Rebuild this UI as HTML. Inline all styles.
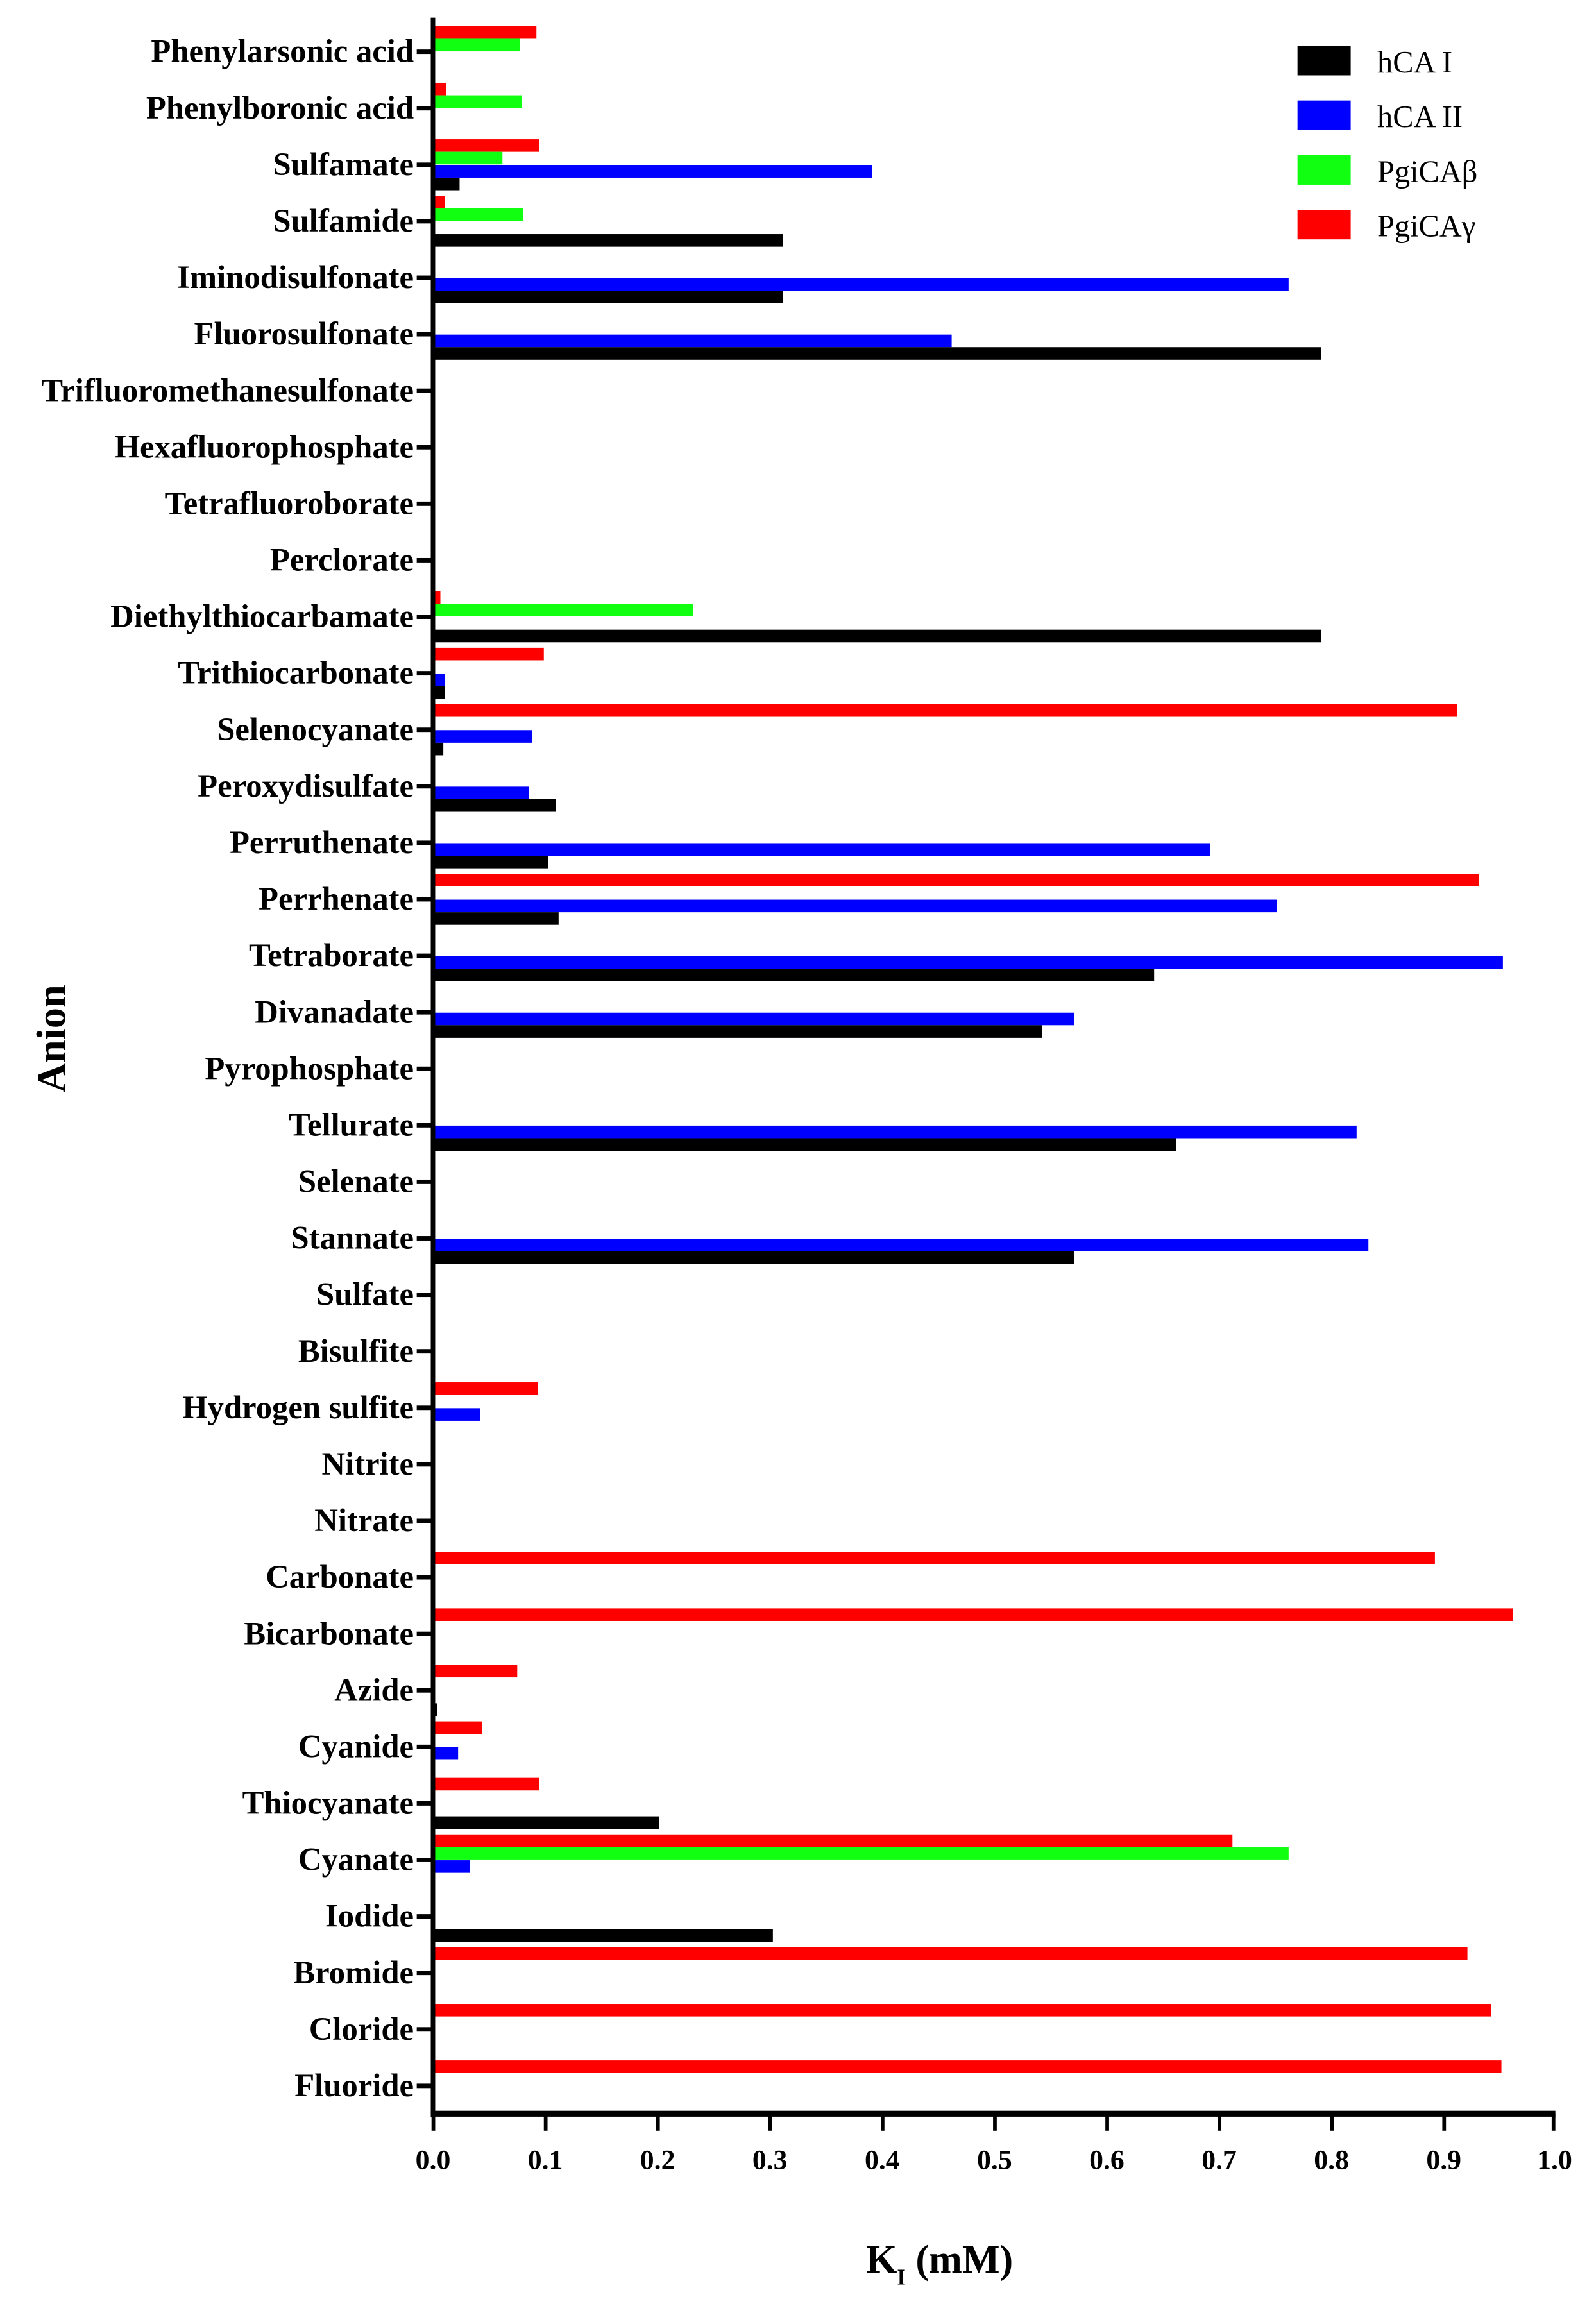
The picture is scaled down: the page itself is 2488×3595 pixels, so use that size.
<!DOCTYPE html>
<html><head><meta charset="utf-8"><style>
html,body{margin:0;padding:0;background:#fff;}
svg{display:block;}
.l{font-family:"Liberation Serif",serif;font-weight:bold;font-size:22px;text-anchor:end;}
.t{font-family:"Liberation Serif",serif;font-weight:bold;font-size:19px;text-anchor:middle;}
.g{font-family:"Liberation Serif",serif;font-size:21px;}
</style></head><body>
<svg width="2488" height="3595" viewBox="0 0 1080 1560.6" preserveAspectRatio="none" xmlns="http://www.w3.org/2000/svg">
<rect width="1080" height="1561" fill="#fff"/>
<defs>
<g id="tk"><rect x="282" y="-1.5" width="12" height="3" fill="#000"/></g>
</defs>
<g transform="translate(0,35)"><rect x="294" y="-17.25" width="69" height="8.5" fill="#f00"/><rect x="294" y="-8.75" width="58" height="8.5" fill="#1f1"/></g>
<g transform="translate(0,73.24)"><rect x="294" y="-17.25" width="8" height="8.5" fill="#f00"/><rect x="294" y="-8.75" width="59" height="8.5" fill="#1f1"/></g>
<g transform="translate(0,111.48)"><rect x="294" y="-17.25" width="71" height="8.5" fill="#f00"/><rect x="294" y="-8.75" width="46" height="8.5" fill="#1f1"/><rect x="294" y="0.25" width="296" height="8.5" fill="#00f"/><rect x="294" y="8.75" width="17" height="8.5" fill="#000"/></g>
<g transform="translate(0,149.72)"><rect x="294" y="-17.25" width="7" height="8.5" fill="#f00"/><rect x="294" y="-8.75" width="60" height="8.5" fill="#1f1"/><rect x="294" y="8.75" width="236" height="8.5" fill="#000"/></g>
<g transform="translate(0,187.96)"><rect x="294" y="0.25" width="578" height="8.5" fill="#00f"/><rect x="294" y="8.75" width="236" height="8.5" fill="#000"/></g>
<g transform="translate(0,226.2)"><rect x="294" y="0.25" width="350" height="8.5" fill="#00f"/><rect x="294" y="8.75" width="600" height="8.5" fill="#000"/></g>
<g transform="translate(0,417.4)"><rect x="294" y="-17.25" width="4" height="8.5" fill="#f00"/><rect x="294" y="-8.75" width="175" height="8.5" fill="#1f1"/><rect x="294" y="8.75" width="600" height="8.5" fill="#000"/></g>
<g transform="translate(0,455.64)"><rect x="294" y="-17.25" width="74" height="8.5" fill="#f00"/><rect x="294" y="0.25" width="7" height="8.5" fill="#00f"/><rect x="294" y="8.75" width="7" height="8.5" fill="#000"/></g>
<g transform="translate(0,493.88)"><rect x="294" y="-17.25" width="692" height="8.5" fill="#f00"/><rect x="294" y="0.25" width="66" height="8.5" fill="#00f"/><rect x="294" y="8.75" width="6" height="8.5" fill="#000"/></g>
<g transform="translate(0,532.12)"><rect x="294" y="0.25" width="64" height="8.5" fill="#00f"/><rect x="294" y="8.75" width="82" height="8.5" fill="#000"/></g>
<g transform="translate(0,570.36)"><rect x="294" y="0.25" width="525" height="8.5" fill="#00f"/><rect x="294" y="8.75" width="77" height="8.5" fill="#000"/></g>
<g transform="translate(0,608.6)"><rect x="294" y="-17.25" width="707" height="8.5" fill="#f00"/><rect x="294" y="0.25" width="570" height="8.5" fill="#00f"/><rect x="294" y="8.75" width="84" height="8.5" fill="#000"/></g>
<g transform="translate(0,646.84)"><rect x="294" y="0.25" width="723" height="8.5" fill="#00f"/><rect x="294" y="8.75" width="487" height="8.5" fill="#000"/></g>
<g transform="translate(0,685.08)"><rect x="294" y="0.25" width="433" height="8.5" fill="#00f"/><rect x="294" y="8.75" width="411" height="8.5" fill="#000"/></g>
<g transform="translate(0,761.56)"><rect x="294" y="0.25" width="624" height="8.5" fill="#00f"/><rect x="294" y="8.75" width="502" height="8.5" fill="#000"/></g>
<g transform="translate(0,838.04)"><rect x="294" y="0.25" width="632" height="8.5" fill="#00f"/><rect x="294" y="8.75" width="433" height="8.5" fill="#000"/></g>
<g transform="translate(0,952.76)"><rect x="294" y="-17.25" width="70" height="8.5" fill="#f00"/><rect x="294" y="0.25" width="31" height="8.5" fill="#00f"/></g>
<g transform="translate(0,1067.48)"><rect x="294" y="-17.25" width="677" height="8.5" fill="#f00"/></g>
<g transform="translate(0,1105.72)"><rect x="294" y="-17.25" width="730" height="8.5" fill="#f00"/></g>
<g transform="translate(0,1143.96)"><rect x="294" y="-17.25" width="56" height="8.5" fill="#f00"/><rect x="294" y="8.75" width="2" height="8.5" fill="#000"/></g>
<g transform="translate(0,1182.2)"><rect x="294" y="-17.25" width="32" height="8.5" fill="#f00"/><rect x="294" y="0.25" width="16" height="8.5" fill="#00f"/></g>
<g transform="translate(0,1220.44)"><rect x="294" y="-17.25" width="71" height="8.5" fill="#f00"/><rect x="294" y="8.75" width="152" height="8.5" fill="#000"/></g>
<g transform="translate(0,1258.68)"><rect x="294" y="-17.25" width="540" height="8.5" fill="#f00"/><rect x="294" y="-8.75" width="578" height="8.5" fill="#1f1"/><rect x="294" y="0.25" width="24" height="8.5" fill="#00f"/></g>
<g transform="translate(0,1296.92)"><rect x="294" y="8.75" width="229" height="8.5" fill="#000"/></g>
<g transform="translate(0,1335.16)"><rect x="294" y="-17.25" width="699" height="8.5" fill="#f00"/></g>
<g transform="translate(0,1373.4)"><rect x="294" y="-17.25" width="715" height="8.5" fill="#f00"/></g>
<g transform="translate(0,1411.64)"><rect x="294" y="-17.25" width="722" height="8.5" fill="#f00"/></g>

<rect x="291.5" y="12" width="3" height="1421" fill="#000"/>
<rect x="291.5" y="1428.5" width="761" height="4" fill="#000"/>
<g fill="#000">
<rect x="292" y="1430" width="2.5" height="12"/><rect x="368" y="1430" width="2.5" height="12"/><rect x="444" y="1430" width="2.5" height="12"/><rect x="520" y="1430" width="2.5" height="12"/><rect x="596" y="1430" width="2.5" height="12"/><rect x="672" y="1430" width="2.5" height="12"/><rect x="748" y="1430" width="2.5" height="12"/><rect x="824" y="1430" width="2.5" height="12"/><rect x="900" y="1430" width="2.5" height="12"/><rect x="976" y="1430" width="2.5" height="12"/><rect x="1050" y="1430" width="2.5" height="12"/>
</g>
<g class="t">
<text x="293" y="1468">0.0</text><text x="369" y="1468">0.1</text><text x="445" y="1468">0.2</text><text x="521" y="1468">0.3</text><text x="597" y="1468">0.4</text><text x="673" y="1468">0.5</text><text x="749" y="1468">0.6</text><text x="825" y="1468">0.7</text><text x="901" y="1468">0.8</text><text x="977" y="1468">0.9</text><text x="1052" y="1468">1.0</text>
</g>
<g class="l">
<use href="#tk" y="35"/><text x="280" y="42">Phenylarsonic acid</text>
<use href="#tk" y="73.24"/><text x="280" y="80.24">Phenylboronic acid</text>
<use href="#tk" y="111.48"/><text x="280" y="118.48">Sulfamate</text>
<use href="#tk" y="149.72"/><text x="280" y="156.72">Sulfamide</text>
<use href="#tk" y="187.96"/><text x="280" y="194.96">Iminodisulfonate</text>
<use href="#tk" y="226.2"/><text x="280" y="233.2">Fluorosulfonate</text>
<use href="#tk" y="264.44"/><text x="280" y="271.44">Trifluoromethanesulfonate</text>
<use href="#tk" y="302.68"/><text x="280" y="309.68">Hexafluorophosphate</text>
<use href="#tk" y="340.92"/><text x="280" y="347.92">Tetrafluoroborate</text>
<use href="#tk" y="379.16"/><text x="280" y="386.16">Perclorate</text>
<use href="#tk" y="417.4"/><text x="280" y="424.4">Diethylthiocarbamate</text>
<use href="#tk" y="455.64"/><text x="280" y="462.64">Trithiocarbonate</text>
<use href="#tk" y="493.88"/><text x="280" y="500.88">Selenocyanate</text>
<use href="#tk" y="532.12"/><text x="280" y="539.12">Peroxydisulfate</text>
<use href="#tk" y="570.36"/><text x="280" y="577.36">Perruthenate</text>
<use href="#tk" y="608.6"/><text x="280" y="615.6">Perrhenate</text>
<use href="#tk" y="646.84"/><text x="280" y="653.84">Tetraborate</text>
<use href="#tk" y="685.08"/><text x="280" y="692.08">Divanadate</text>
<use href="#tk" y="723.32"/><text x="280" y="730.32">Pyrophosphate</text>
<use href="#tk" y="761.56"/><text x="280" y="768.56">Tellurate</text>
<use href="#tk" y="799.8"/><text x="280" y="806.8">Selenate</text>
<use href="#tk" y="838.04"/><text x="280" y="845.04">Stannate</text>
<use href="#tk" y="876.28"/><text x="280" y="883.28">Sulfate</text>
<use href="#tk" y="914.52"/><text x="280" y="921.52">Bisulfite</text>
<use href="#tk" y="952.76"/><text x="280" y="959.76">Hydrogen sulfite</text>
<use href="#tk" y="991"/><text x="280" y="998">Nitrite</text>
<use href="#tk" y="1029.24"/><text x="280" y="1036.24">Nitrate</text>
<use href="#tk" y="1067.48"/><text x="280" y="1074.48">Carbonate</text>
<use href="#tk" y="1105.72"/><text x="280" y="1112.72">Bicarbonate</text>
<use href="#tk" y="1143.96"/><text x="280" y="1150.96">Azide</text>
<use href="#tk" y="1182.2"/><text x="280" y="1189.2">Cyanide</text>
<use href="#tk" y="1220.44"/><text x="280" y="1227.44">Thiocyanate</text>
<use href="#tk" y="1258.68"/><text x="280" y="1265.68">Cyanate</text>
<use href="#tk" y="1296.92"/><text x="280" y="1303.92">Iodide</text>
<use href="#tk" y="1335.16"/><text x="280" y="1342.16">Bromide</text>
<use href="#tk" y="1373.4"/><text x="280" y="1380.4">Cloride</text>
<use href="#tk" y="1411.64"/><text x="280" y="1418.64">Fluoride</text>
</g>
<text transform="translate(44,703) rotate(-90)" font-family="Liberation Serif, serif" font-weight="bold" font-size="28" text-anchor="middle">Anion</text>
<text x="586" y="1538" font-family="Liberation Serif, serif" font-weight="bold" font-size="27">K<tspan font-size="15" dy="8">I</tspan><tspan dy="-8"> (mM)</tspan></text>
<rect x="878" y="31" width="36" height="20" fill="#000"/>
<rect x="878" y="68" width="36" height="20" fill="#00f"/>
<rect x="878" y="105" width="36" height="20" fill="#1f1"/>
<rect x="878" y="142" width="36" height="20" fill="#f00"/>
<g class="g">
<text x="932" y="49">hCA I</text>
<text x="932" y="86">hCA II</text>
<text x="932" y="123">PgiCAβ</text>
<text x="932" y="160">PgiCAγ</text>
</g>
</svg>
</body></html>
